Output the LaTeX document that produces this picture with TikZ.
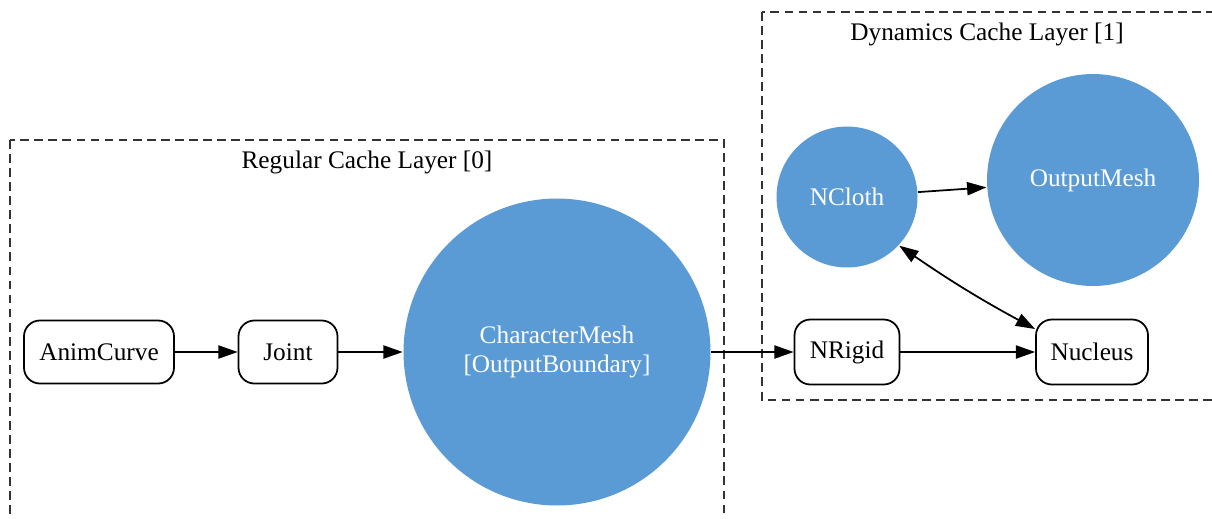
\documentclass[tikz,border=0pt]{standalone}
\usepackage{fontspec}
\setmainfont{Liberation Serif}
\usetikzlibrary{arrows.meta}
\definecolor{meshblue}{HTML}{5B9BD5}

\begin{document}
\begin{tikzpicture}[x=0.02cm, y=-0.02cm, line width=1pt,
    font=\fontsize{14.4}{17}\selectfont,
    >={Triangle[length=11pt,width=7.5pt]},
    box/.style={draw, rounded corners=9pt, minimum height=1.26cm, inner sep=0pt},
    blob/.style={circle, fill=meshblue, text=white, inner sep=0pt, align=center},
    layer/.style={draw=black!80, dash pattern=on 5pt off 3pt}]

    \useasboundingbox (0,0) rectangle (1212,518);
    \clip (0,0) rectangle (1212,518);

    \draw [layer] (10,140) rectangle (724,560);
    \draw [layer] (762,12) rectangle (1240,400);
    \node (lab0) at (367,162) {Regular Cache Layer [0]};
    \node (lab1) at (987,34) {Dynamics Cache Layer [1]};

    \node [box, minimum width=3cm] (anim) at (99,352) {AnimCurve};
    \node [box, minimum width=1.98cm] (joint) at (288,352) {Joint};
    \node [blob, minimum size=6.14cm] (charmesh) at (557,352) {CharacterMesh\\{}[OutputBoundary]};
    \node [box, minimum width=2.1cm, minimum height=1.3cm] (nrigid) at (847,352) {NRigid};
    \node [box, minimum width=2.24cm, minimum height=1.3cm] (nucleus) at (1092,352) {Nucleus};
    \node [blob, minimum size=2.82cm] (ncloth) at (847,197) {NCloth};
    \node [blob, minimum size=4.24cm] (outmesh) at (1093,180) {OutputMesh};

    \draw [->] (anim) to (joint);
    \draw [->] (joint) to (charmesh);
    \draw [->] (charmesh) to (nrigid);
    \draw [->] (nrigid) to (nucleus);
    \draw [->] (ncloth) to (outmesh);
    \draw [<->] (ncloth.-43) to[bend right=3] (nucleus.158);

\end{tikzpicture}
\end{document}
